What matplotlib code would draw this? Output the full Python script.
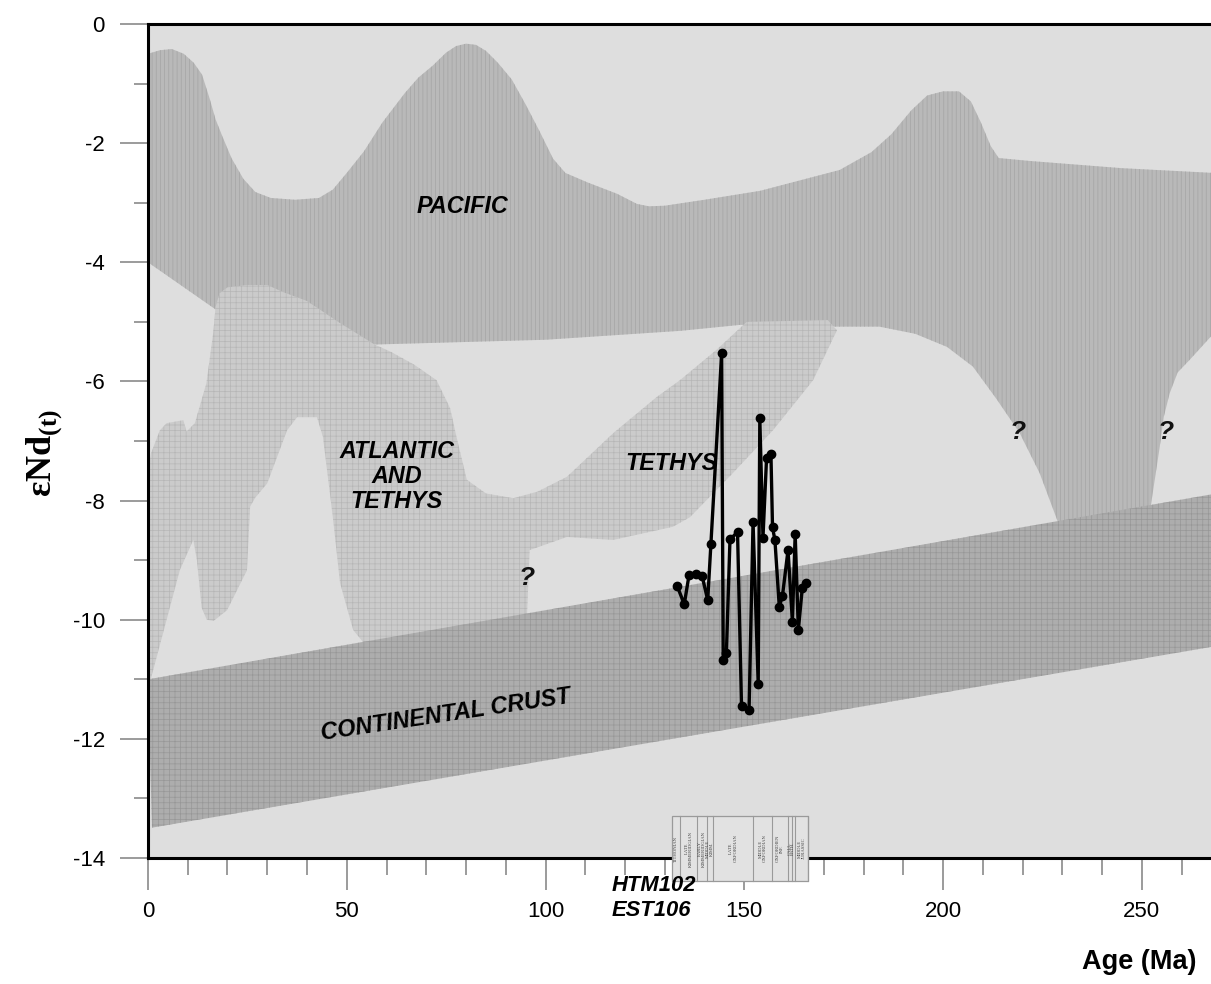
import numpy as np
import matplotlib.pyplot as plt
from matplotlib.patches import Rectangle

plt.rcParams['font.family'] = ['Liberation Sans', 'DejaVu Sans']
plt.rcParams['axes.unicode_minus'] = False
plt.rcParams['hatch.linewidth'] = 0.5
plt.rcParams['mathtext.fontset'] = 'custom'
plt.rcParams['mathtext.rm'] = 'Liberation Serif:bold'
plt.rcParams['mathtext.bf'] = 'Liberation Serif:bold'

# --- seawater eNd envelopes (age in Ma, eNd) ---
pac_top_x = [0, 3, 6, 9, 11.5, 13.6, 15.5, 17, 18.8, 21, 24, 27, 30.9, 37, 43, 46.5,
             50, 54.3, 59, 64.6, 68, 71.6, 75, 77.5, 80, 82.5, 85, 88, 91.5, 95,
             98.5, 101.9, 105, 110.6, 118, 123, 126, 130, 140, 154, 174, 182, 187,
             192, 196, 200, 204, 207, 209.5, 212, 214, 222, 245, 268]
pac_top_y = [-0.5, -0.44, -0.42, -0.5, -0.65, -0.85, -1.25, -1.6, -1.9, -2.25, -2.6,
             -2.82, -2.92, -2.95, -2.92, -2.78, -2.5, -2.14, -1.65, -1.16, -0.9, -0.7,
             -0.48, -0.37, -0.33, -0.35, -0.45, -0.65, -0.93, -1.35, -1.8, -2.26, -2.5,
             -2.66, -2.85, -3.02, -3.06, -3.05, -2.95, -2.8, -2.45, -2.15, -1.85, -1.45,
             -1.2, -1.13, -1.13, -1.3, -1.65, -2.05, -2.25, -2.3, -2.42, -2.5]
# lower edge, right to left
pac_bot_x = [268, 262, 259, 257, 255.5, 254.5, 252, 229.4, 224.3, 219.3, 213.5, 207.5,
             201, 193, 184, 173, 149, 134, 100, 57, 35, 17.2, 0]
pac_bot_y = [-5.2, -5.64, -5.85, -6.2, -6.6, -7.1, -8.2, -8.45, -7.54, -6.87, -6.3,
             -5.75, -5.42, -5.2, -5.08, -5.08, -5.05, -5.15, -5.3, -5.38, -5.1, -4.8,
             -4.0]

atl_x = [0, 0.8, 3, 4.7, 8.9, 9.7, 11.8, 14.7, 16.4, 17, 18, 20, 25, 30, 34, 40,
         48.3, 57, 61, 67, 72.6, 76, 77.6, 80.2, 85, 91.9, 98, 105.4, 117, 128,
         133.8, 143, 150.6, 171, 173.3, 167.3, 157.2, 147.1, 136.3, 132, 117, 105.4,
         96, 95.3, 50, 0]
atl_y = [-7.5, -7.2, -6.82, -6.7, -6.65, -6.84, -6.7, -6.03, -5.19, -4.75, -4.52,
         -4.42, -4.38, -4.38, -4.5, -4.65, -5.02, -5.38, -5.5, -5.72, -5.98, -6.45,
         -6.93, -7.65, -7.88, -7.96, -7.85, -7.6, -6.87, -6.26, -5.98, -5.47, -5.0,
         -4.97, -5.14, -5.98, -6.82, -7.54, -8.28, -8.44, -8.66, -8.61, -8.83, -10.0,
         -10.6, -11.1]

# light gaps inside the Atlantic/Tethys field
gap_x = [0.5, 8, 11.4, 12.3, 13.5, 14.8, 16.5, 19.9, 24.9, 25.7, 27, 30, 35, 37.5,
         42.5, 44, 46.5, 48.3, 51.6, 55]
gap_y = [-11.05, -9.17, -8.66, -9.0, -9.8, -10.0, -10.02, -9.84, -9.17, -8.1, -7.95,
         -7.71, -6.82, -6.6, -6.6, -6.93, -8.28, -9.38, -10.17, -10.45]

crust_x = [0, 268, 268, 1]
crust_y = [-11.0, -7.89, -10.45, -13.49]

# --- HTM102 / EST106 record ---
age = [133.1, 134.9, 136.1, 137.8, 139.4, 140.8, 141.6, 144.3, 144.7, 145.5, 146.4,
       148.3, 149.3, 151.2, 152.2, 153.5, 153.9, 154.7, 155.6, 156.7, 157.1, 157.7,
       158.8, 159.6, 161.0, 162.1, 162.8, 163.6, 164.6, 165.6]
end = [-9.43, -9.74, -9.25, -9.24, -9.27, -9.67, -8.73, -5.53, -10.68, -10.55, -8.65,
       -8.53, -11.44, -11.52, -8.36, -11.08, -6.62, -8.62, -7.29, -7.21, -8.45, -8.66,
       -9.78, -9.6, -8.83, -10.03, -8.56, -10.17, -9.46, -9.39]

# stratigraphic column under the record
strat_edges = [131.7, 133.8, 138.2, 140.5, 142.2, 152.3, 156.9, 161.0, 161.9, 162.7, 166.1]
strat_names = ['TITHONIAN', 'LATE\nKIMMERIDGIAN', 'EARLY\nKIMMERIDGIAN', 'MIDDLE\nKIMM.',
               'LATE\nOXFORDIAN', 'MIDDLE\nOXFORDIAN', 'OXFORDIEN\nINF.', 'CALL.', 'BATH.',
               'MIDDLE\nJURASSIC']

fig = plt.figure(figsize=(12.11, 9.84), dpi=100)
ax = fig.add_axes([0.1222, 0.128, 0.8778, 0.8476])
ax.set_facecolor('#dedede')
ax.set_xlim(0, 267.4)
ax.set_ylim(-14, 0)

ax.fill(pac_top_x + pac_bot_x, pac_top_y + pac_bot_y, facecolor='#b9b9b9',
        edgecolor='#a4a4a4', linewidth=0, hatch='||||', zorder=1)
ax.fill(atl_x, atl_y, facecolor='#cbcbcb', edgecolor='#b6b6b6', linewidth=0,
        hatch='+++', zorder=2)
ax.fill(gap_x, gap_y, facecolor='#dedede', edgecolor='none', linewidth=0, zorder=3)
ax.fill(crust_x, crust_y, facecolor='#adadad', edgecolor='#979797', linewidth=0,
        hatch='+++', zorder=4)

ax.plot(age, end, color='black', lw=2.4, marker='o', ms=6, zorder=6)

lab = dict(fontsize=16.8, fontweight='bold', fontstyle='italic', ha='center',
           va='center', zorder=7)
ax.text(79, -3.07, 'PACIFIC', **lab)
ax.text(62.6, -7.6, 'ATLANTIC\nAND\nTETHYS', linespacing=1.1, **lab)
ax.text(131.8, -7.37, 'TETHYS', **lab)
ax.text(75, -11.6, 'CONTINENTAL CRUST', rotation=8.5, **lab)
for qx, qy in [(95.3, -9.3), (218.8, -6.85), (256, -6.85)]:
    ax.text(qx, qy, '?', fontsize=19, fontweight='bold', fontstyle='italic',
            ha='center', va='center', color='#111111', zorder=7)

# stratigraphic column
y0, y1 = -14.38, -13.3
ax.add_patch(Rectangle((strat_edges[0], y0), strat_edges[-1] - strat_edges[0], y1 - y0,
                       facecolor='#e2e2e2', edgecolor='#9a9a9a', lw=0.9,
                       clip_on=False, zorder=12))
for i, name in enumerate(strat_names):
    xa, xb = strat_edges[i], strat_edges[i + 1]
    ax.plot([xb, xb], [y0, y1], color='#9a9a9a', lw=0.8, clip_on=False, zorder=13)
    ax.text((xa + xb) / 2, (y0 + y1) / 2, name, rotation=90, fontsize=3.4,
            family='Liberation Serif', ha='center', va='center', color='#444444',
            linespacing=1.0, clip_on=False, zorder=13)

for side in ['left', 'top', 'bottom']:
    ax.spines[side].set_linewidth(2.2)
    ax.spines[side].set_zorder(10)
ax.spines['right'].set_visible(False)

ax.set_xticks(np.arange(0, 251, 50))
ax.set_xticks(np.arange(0, 268, 10), minor=True)
ax.set_yticks(np.arange(-14, 1, 2))
ax.set_yticks(np.arange(-14, 1, 1), minor=True)
ax.tick_params(axis='x', which='major', length=23, width=1.2, color='#8a8a8a',
               labelsize=16, pad=8)
ax.tick_params(axis='x', which='minor', length=12, width=1.2, color='#8a8a8a')
ax.tick_params(axis='y', which='major', length=20, width=1.2, color='#8a8a8a',
               labelsize=16, pad=11)
ax.tick_params(axis='y', which='minor', length=10, width=1.2, color='#8a8a8a')

fig.text(0.037, 0.54, r'εNd$_{\mathbf{(t)}}$', rotation=90, fontsize=26,
         family='Liberation Serif', fontweight='bold', ha='center', va='center')
fig.text(0.5054, 0.1006, 'HTM102', fontsize=15.8, fontweight='bold', fontstyle='italic',
         ha='left', va='center')
fig.text(0.5054, 0.0752, 'EST106', fontsize=15.8, fontweight='bold', fontstyle='italic',
         ha='left', va='center')
fig.text(0.988, 0.0224, 'Age (Ma)', fontsize=19.5, fontweight='bold', ha='right',
         va='center')

fig.savefig('out.png', dpi=100)
